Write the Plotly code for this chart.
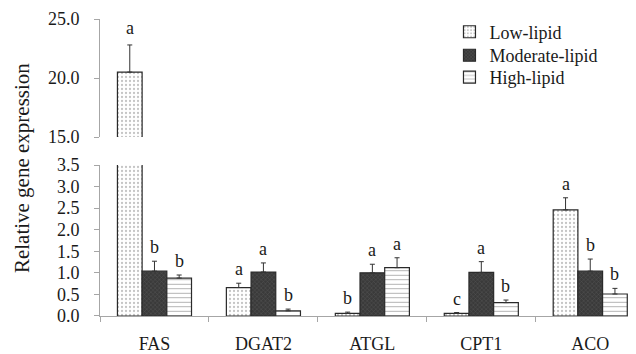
import plotly.graph_objects as go

genes = ["FAS", "DGAT2", "ATGL", "CPT1", "ACO"]
series_names = ["Low-lipid", "Moderate-lipid", "High-lipid"]
low_vals = [20.5, 0.66, 0.06, 0.06, 2.46]
low_err = [2.3, 0.10, 0.03, 0.02, 0.28]
mod_vals = [1.04, 1.02, 1.00, 1.01, 1.04]
mod_err = [0.23, 0.21, 0.20, 0.25, 0.28]
high_vals = [0.88, 0.12, 1.12, 0.31, 0.51]
high_err = [0.07, 0.04, 0.23, 0.06, 0.13]
low_letters = ["a", "a", "b", "c", "a"]
mod_letters = ["b", "a", "a", "a", "b"]
high_letters = ["b", "b", "a", "b", "b"]
lower_ticks = [0.0, 0.5, 1.0, 1.5, 2.0, 2.5, 3.0, 3.5]
upper_ticks = [15.0, 20.0, 25.0]

values = [low_vals, mod_vals, high_vals]
errors = [low_err, mod_err, high_err]
letters = [low_letters, mod_letters, high_letters]

patterns = [
    dict(shape=".", fgcolor="#8a8a8a", bgcolor="white", size=4, solidity=0.25),
    dict(shape="x", fgcolor="#707070", bgcolor="#3a3a3a", size=3, solidity=0.3),
    dict(shape="-", fgcolor="#444444", bgcolor="white", size=4.5, solidity=0.18),
]

FONT = "Liberation Serif"
TXT = "#1a1a1a"
AX = "#a6a6a6"
legend_ids = ["legend", "legend2", "legend3"]
legend_y = [0.956, 0.877, 0.803]

fig = go.Figure()
for i, name in enumerate(series_names):
    for xa, ya, show in (("x", "y", True), ("x2", "y2", False)):
        fig.add_trace(go.Bar(
            x=genes, y=values[i], name=name, showlegend=show, legendgroup=name,
            legend=legend_ids[i], xaxis=xa, yaxis=ya,
            marker=dict(color="white", pattern=patterns[i],
                        line=dict(color="#2a2a2a", width=1.2)),
            error_y=dict(type="data", array=errors[i], arrayminus=[0] * len(genes),
                         symmetric=False, color="#333333", thickness=1, width=2.5),
        ))

group_frac = 0.68
bw = group_frac / 3
annotations = []
for i in range(3):
    for j, g in enumerate(genes):
        top = values[i][j] + errors[i][j]
        yref = "y2" if top > 3.5 else "y"
        annotations.append(dict(
            x=j + (i - 1) * bw, y=top, xref="x", yref=yref, text=letters[i][j],
            showarrow=False, yanchor="bottom", yshift=2 if yref == "y" else 5,
            font=dict(family=FONT, size=18, color=TXT)))

annotations.append(dict(
    x=-0.1455, y=0.498, xref="paper", yref="paper", xanchor="center",
    yanchor="middle", text="Relative gene expression",
    showarrow=False, textangle=-90, font=dict(family=FONT, size=21, color=TXT)))

legend_common = dict(x=0.652, xanchor="left", yanchor="middle",
                     font=dict(family=FONT, size=18, color=TXT),
                     bgcolor="rgba(0,0,0,0)", tracegroupgap=0, itemwidth=30)

fig.update_layout(
    width=628, height=346,
    margin=dict(l=92, r=0, t=11, b=38),
    paper_bgcolor="white", plot_bgcolor="white",
    barmode="group", bargap=1 - group_frac, bargroupgap=0,
    font=dict(family=FONT, color=TXT, size=18),
    showlegend=True,
    legend=dict(y=legend_y[0], **legend_common),
    legend2=dict(y=legend_y[1], **legend_common),
    legend3=dict(y=legend_y[2], **legend_common),
    annotations=annotations,
    xaxis=dict(domain=[0, 1], range=[-0.5, 4.42], showline=True, linecolor=AX,
               linewidth=1, ticks="outside", tickson="boundaries", ticklen=5,
               tickcolor=AX, ticklabelstandoff=11, showgrid=False,
               tickfont=dict(family=FONT, size=18, color=TXT), anchor="y"),
    xaxis2=dict(domain=[0, 1], range=[-0.5, 4.42], matches="x", anchor="y2",
                showline=False, showticklabels=False, ticks="", showgrid=False),
    yaxis=dict(domain=[0, 0.5084], range=[0, 3.5], tickvals=lower_ticks,
               ticktext=[f"{v:.1f}" for v in lower_ticks], showline=True,
               linecolor=AX, linewidth=1, ticks="outside", ticklen=5, tickcolor=AX,
               showgrid=False, zeroline=False, ticklabelstandoff=11,
               tickfont=dict(family=FONT, size=18, color=TXT), anchor="x"),
    yaxis2=dict(domain=[0.6027, 1], range=[15, 25], tickvals=upper_ticks,
                ticktext=[f"{v:.1f}" for v in upper_ticks], showline=True,
                linecolor=AX, linewidth=1, ticks="outside", ticklen=5, tickcolor=AX,
                showgrid=False, zeroline=False, ticklabelstandoff=11,
                tickfont=dict(family=FONT, size=18, color=TXT), anchor="x2"),
)

fig.write_html("out.html")
